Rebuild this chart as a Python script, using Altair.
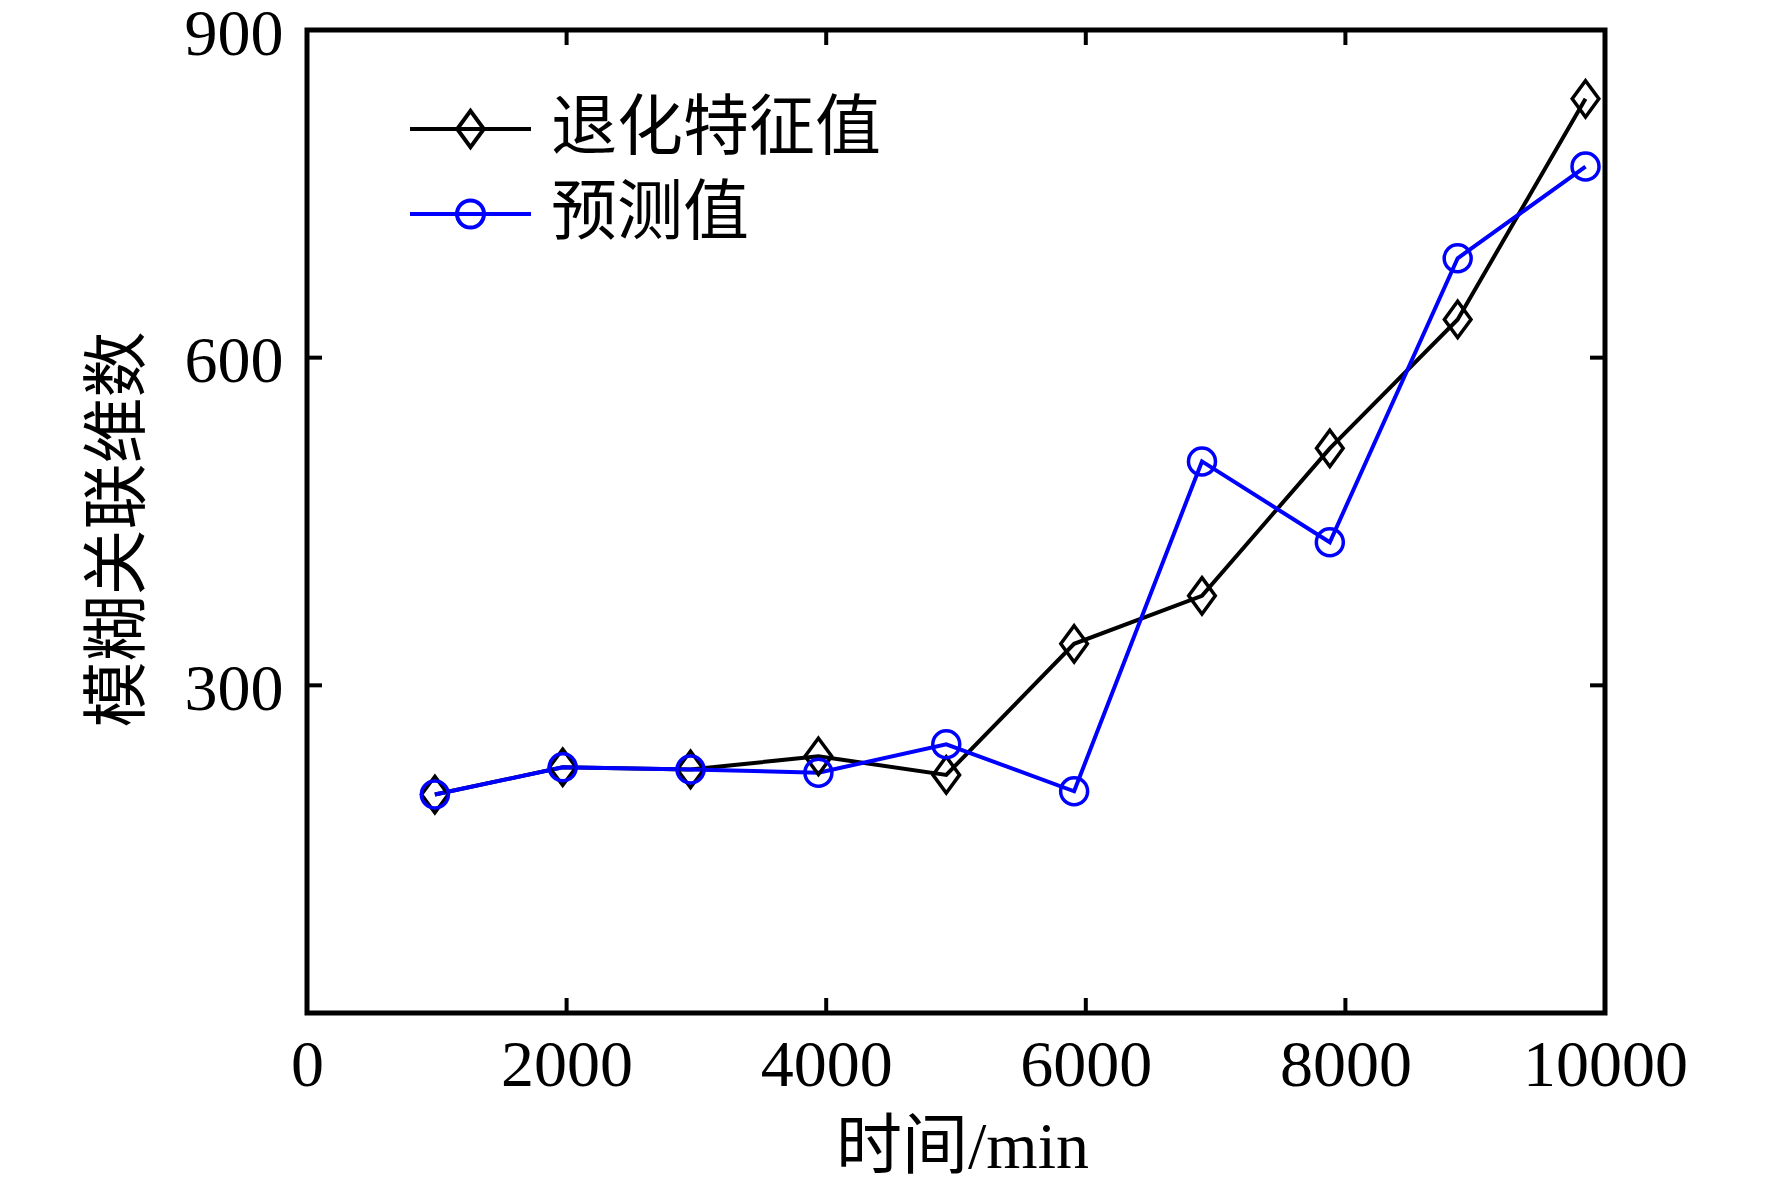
import altair as alt
import pandas as pd

# ---- data ----
time_min = [985, 1970, 2955, 3940, 4925, 5910, 6895, 7880, 8865, 9850]
degradation = [200, 225, 223, 235, 218, 338, 382, 517, 635, 837]
predicted = [200, 225, 223, 220, 246, 203, 505, 431, 691, 775]
series_names = ["退化特征值", "预测值"]
series_colors = ["#000000", "#0000ff"]
x_tick_values = [0, 2000, 4000, 6000, 8000, 10000]
y_tick_values = [300, 600, 900]
inner_x_ticks = [2000, 4000, 6000, 8000]
inner_y_ticks = [300, 600]

rows = []
for i, t in enumerate(time_min):
    rows.append({"t": t, "v": degradation[i], "series": series_names[0], "o": 0})
for i, t in enumerate(time_min):
    rows.append({"t": t, "v": predicted[i], "series": series_names[1], "o": 1})
df = pd.DataFrame(rows)
df["series2"] = df["series"]

W, H = 1298, 983
FONT = "Liberation Serif, Noto Sans CJK SC"
FS = 66
SYM = 14641  # sqrt -> 121 px
LW = 4
MW = 3.5

diamond_path = "M0,-0.3L0.22,0L0,0.3L-0.22,0Z"
circle_path = "M-0.223,0A0.223,0.223 0 1,1 0.223,0A0.223,0.223 0 1,1 -0.223,0Z"
line_path = "M-1,0H1"

xscale = alt.Scale(domain=[0, 10000], nice=False)
yscale = alt.Scale(domain=[0, 900], nice=False)

x_axis = alt.Axis(
    values=x_tick_values, format="d", tickSize=0, grid=False, domain=False,
    labelFont=FONT, labelFontSize=FS, labelColor="black", labelLimit=0,
    labelBaseline="alphabetic", labelPadding=72, labelFlush=False,
    title="时间/min", titleFont=FONT, titleFontSize=FS, titleFontWeight="normal",
    titleColor="black", titleX=655, titleY=154, titleBaseline="alphabetic",
    titleAlign="center", titleAnchor="start", titleLimit=0,
)
y_axis = alt.Axis(
    values=y_tick_values, format="d", tickSize=0, grid=False, domain=False,
    labelFont=FONT, labelFontSize=FS, labelColor="black", labelLimit=0,
    labelBaseline="alphabetic", labelOffset=24, labelPadding=24, labelFlush=False,
    title="模糊关联维数", titleFont=FONT, titleFontSize=FS, titleFontWeight="normal",
    titleColor="black", titleX=-169, titleY=499, titleAngle=270,
    titleBaseline="alphabetic", titleAlign="center", titleAnchor="start", titleLimit=0,
)

CH = 85
LX, LY, RP = 101, 99 - CH / 2, 0

line_legend = alt.Legend(
    title=None, orient="none", legendX=LX, legendY=LY,
    labelFont=FONT, labelFontSize=FS, labelColor="black", labelLimit=0,
    symbolType=line_path, symbolSize=SYM, symbolStrokeWidth=LW,
    symbolFillColor="transparent", clipHeight=CH,
    padding=0, rowPadding=RP, labelOffset=18, symbolOffset=0, zindex=1,
)
marker_legend = alt.Legend(
    title=None, orient="none", legendX=LX, legendY=LY,
    labelFont=FONT, labelFontSize=FS, labelColor="black", labelOpacity=0, labelLimit=0,
    labelExpr="' '",
    symbolSize=SYM, symbolStrokeWidth=LW, clipHeight=CH,
    padding=0, rowPadding=RP, labelOffset=18, symbolOffset=0, zindex=2,
)

base = alt.Chart(df)

lines = base.mark_line(strokeWidth=LW).encode(
    x=alt.X("t:Q", scale=xscale, axis=x_axis),
    y=alt.Y("v:Q", scale=yscale, axis=y_axis),
    stroke=alt.Stroke("series2:N", scale=alt.Scale(range=series_colors),
                      legend=line_legend),
    order="o:Q",
    detail="series2:N",
)

points = base.mark_point(filled=False, strokeWidth=MW, size=SYM, opacity=1).encode(
    x=alt.X("t:Q", scale=xscale),
    y=alt.Y("v:Q", scale=yscale),
    color=alt.Color("series:N", scale=alt.Scale(domain=series_names, range=series_colors),
                    legend=marker_legend),
    shape=alt.Shape("series:N", scale=alt.Scale(domain=series_names, range=[diamond_path, circle_path]),
                    legend=marker_legend),
)

tick_x_df = pd.DataFrame({"tx": inner_x_ticks})
tick_y_df = pd.DataFrame({"ty": inner_y_ticks})
TL = 15
tick_bottom = alt.Chart(tick_x_df).mark_rule(color="black", strokeWidth=4).encode(
    x=alt.X("tx:Q", scale=xscale), y=alt.value(H), y2=alt.value(H - TL))
tick_top = alt.Chart(tick_x_df).mark_rule(color="black", strokeWidth=4).encode(
    x=alt.X("tx:Q", scale=xscale), y=alt.value(0), y2=alt.value(TL))
tick_left = alt.Chart(tick_y_df).mark_rule(color="black", strokeWidth=4).encode(
    y=alt.Y("ty:Q", scale=yscale), x=alt.value(0), x2=alt.value(TL))
tick_right = alt.Chart(tick_y_df).mark_rule(color="black", strokeWidth=4).encode(
    y=alt.Y("ty:Q", scale=yscale), x=alt.value(W), x2=alt.value(W - TL))

chart = alt.layer(
    lines, points, tick_bottom, tick_top, tick_left, tick_right
).properties(
    width=W, height=H,
    autosize=alt.AutoSizeParams(type="none"),
    padding={"left": 299, "top": 22, "right": 150, "bottom": 172},
    background="white",
).configure_view(
    stroke="black", strokeWidth=5,
)

chart.save("out.html", embed_options={"renderer": "svg", "actions": False})
